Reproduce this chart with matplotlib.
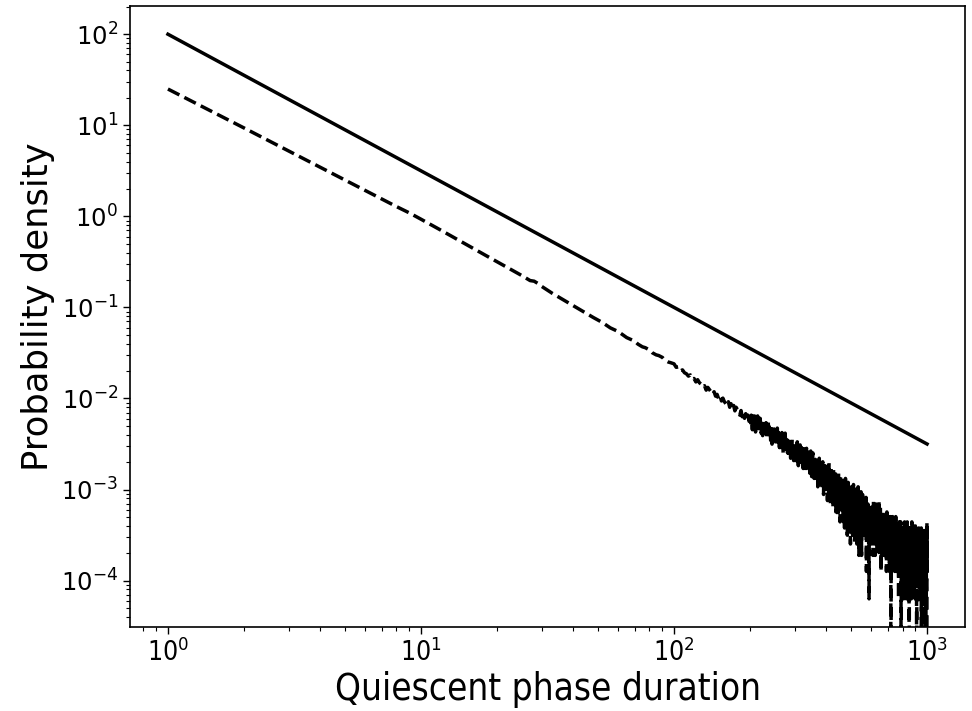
import matplotlib
matplotlib.use("Agg")
import matplotlib.pyplot as plt
import numpy as np
from matplotlib import font_manager

# ---------------- data ----------------
# reference power law (solid line)
ref_x = [1, 1000]
ref_y = [100.0, 3.16e-3]

# smooth (low-noise) part of the measured distribution, x < 100
head_x = [1, 2, 3, 4, 5, 6, 7, 8, 9, 10, 12, 14, 16, 18, 20, 22, 25, 27, 28, 29, 30,
          33, 36, 40, 44, 48, 52, 56, 60, 62, 65, 67, 70, 72, 75, 77, 80, 82, 85, 87,
          90, 92, 95, 97]
head_y = [25.0, 9.33, 5.22, 3.46, 2.51, 1.94, 1.55, 1.28, 1.09, 0.93, 0.703, 0.552, 0.449,
          0.373, 0.317, 0.273, 0.224, 0.197, 0.194, 0.183, 0.170,
          0.143, 0.124, 0.1045, 0.0893, 0.0774, 0.0685, 0.0596, 0.0545, 0.0512, 0.0466,
          0.0449, 0.0425, 0.0395, 0.0369, 0.0361, 0.0341, 0.0318, 0.0301, 0.0296,
          0.0282, 0.0263, 0.0251, 0.0247]

# noisy tail, expressed as event counts (one count = density_per_count)
density_per_count = 6.3e-5

tail_a_x = list(range(100, 200, 2))
tail_a_counts = [381, 349, 352, 318, 327, 304, 296, 279, 288, 259,
                 263, 241, 255, 236, 228, 211, 219, 196, 210, 199,
                 188, 176, 188, 168, 176, 158, 170, 149, 160, 147,
                 140, 133, 146, 127, 139, 121, 133, 116, 127, 120,
                 109, 104, 117, 100, 112, 96, 108, 92, 104, 89]

tail_b_x = list(range(200, 1001))
tail_b_counts = [
    95, 81, 104, 88, 72, 97, 85, 110, 79, 91, 68, 99, 84, 76, 102, 87, 74, 93, 81, 96,
    80, 66, 89, 71, 62, 84, 75, 93, 60, 78, 70, 86, 58, 74, 81, 65, 90, 69, 77, 63,
    68, 55, 74, 61, 50, 70, 58, 79, 64, 52, 66, 59, 72, 48, 63, 57, 75, 54, 61, 67,
    58, 46, 63, 51, 42, 60, 55, 67, 48, 53, 40, 57, 62, 45, 52, 66, 49, 44, 56, 50,
    51, 40, 55, 45, 37, 49, 58, 42, 47, 35, 52, 44, 39, 56, 46, 41, 50, 33, 48, 43,
    44, 36, 50, 39, 31, 45, 41, 53, 34, 40, 29, 47, 38, 43, 35, 49, 32, 42, 37, 46,
    39, 31, 44, 34, 27, 40, 36, 47, 29, 35, 42, 25, 37, 33, 45, 30, 38, 28, 41, 34,
    35, 27, 39, 30, 24, 36, 32, 42, 26, 31, 22, 37, 29, 34, 40, 25, 33, 28, 21, 32,
    30, 23, 34, 26, 19, 31, 27, 36, 22, 28, 17, 32, 25, 29, 21, 35, 24, 20, 30, 26,
    26, 19, 30, 22, 16, 27, 23, 32, 18, 24, 14, 28, 21, 25, 17, 29, 20, 15, 26, 22,
    24, 16, 27, 19, 12, 22, 17, 29, 14, 21, 31, 13, 20, 25, 15, 11, 23, 18, 28, 16,
    20, 13, 24, 16, 21, 10, 18, 27, 14, 17, 23, 11, 19, 15, 26, 18, 9, 16, 22, 14,
    17, 11, 21, 14, 8, 18, 15, 24, 12, 10, 19, 13, 16, 7, 15, 22, 11, 18, 12, 14,
    15, 9, 18, 12, 20, 10, 13, 7, 16, 19, 11, 14, 6, 17, 10, 13, 21, 9, 15, 11,
    13, 8, 16, 11, 5, 12, 15, 9, 19, 10, 6, 14, 12, 17, 8, 11, 15, 9, 4, 12,
    11, 15, 7, 12, 9, 17, 8, 11, 5, 14, 10, 12, 18, 8, 11, 6, 14, 10, 4, 12,
    10, 6, 13, 9, 16, 7, 11, 10, 4, 14, 8, 11, 5, 10, 17, 7, 9, 13, 3, 10,
    9, 12, 6, 10, 4, 13, 8, 9, 15, 6, 10, 3, 9, 12, 7, 6, 14, 9, 5, 10,
    8, 10, 6, 9, 12, 7, 8, 5, 11, 9, 7, 10, 6, 8, 13, 7, 2, 9, 8, 6,
    7, 9, 5, 8, 11, 6, 7, 10, 4, 8, 1, 7, 9, 6, 8, 5, 10, 7, 6, 8,
    7, 5, 11, 6, 8, 4, 7, 10, 6, 5, 9, 3, 7, 6, 12, 5, 7, 8, 4, 6,
    6, 8, 5, 7, 3, 9, 6, 5, 11, 7, 4, 6, 10, 5, 7, 6, 3, 8, 6, 5,
    7, 5, 6, 9, 4, 6, 12, 5, 3, 7, 6, 8, 5, 4, 10, 6, 5, 7, 2, 6,
    6, 4, 7, 5, 8, 6, 3, 5, 7, 6, 4, 9, 5, 6, 3, 7, 5, 6, 8, 4,
    5, 7, 4, 6, 3, 5, 8, 6, 4, 5, 7, 2, 6, 5, 9, 4, 5, 6, 3, 7,
    5, 4, 7, 3, 6, 5, 8, 4, 5, 6, 2, 5, 7, 4, 6, 3, 5, 8, 4, 6,
    0, 5, 6, 4, 7, 3, 5, 4, 6, 2, 5, 8, 4, 5, 3, 6, 4, 7, 5, 3,
    5, 3, 6, 4, 7, 2, 5, 4, 6, 3, 5, 4, 8, 3, 5, 6, 2, 4, 5, 6,
    4, 6, 3, 5, 2, 7, 4, 5, 3, 6, 4, 5, 1, 6, 4, 3, 7, 5, 4, 3,
    5, 3, 6, 4, 2, 5, 4, 7, 3, 4, 0, 5, 3, 6, 4, 2, 5, 4, 3, 6,
    4, 2, 5, 3, 6, 4, 3, 5, 1, 4, 6, 3, 4, 5, 2, 7, 4, 3, 5, 4,
    3, 5, 4, 2, 6, 4, 3, 5, 4, 1, 6, 3, 4, 5, 3, 7, 2, 4, 5, 3,
    4, 3, 5, 2, 4, 6, 3, 4, 1, 5, 0, 4, 3, 5, 2, 4, 6, 3, 4, 2,
    3, 5, 4, 2, 6, 3, 4, 1, 5, 3, 4, 7, 2, 4, 3, 5, 2, 4, 3, 6,
    4, 2, 3, 5, 3, 1, 4, 6, 3, 2, 5, 3, 4, 2, 7, 3, 4, 1, 3, 5,
    3, 4, 2, 5, 3, 1, 4, 3, 6, 2, 0, 4, 3, 5, 2, 3, 4, 1, 5, 3,
    4, 2, 3, 5, 1, 3, 4, 2, 6, 3, 4, 2, 3, 5, 1, 4, 3, 2, 4, 3,
    2, 4, 3, 1, 5, 3, 2, 4, 3, 6, 0, 3, 4, 2, 3, 5, 1, 3, 4, 2,
    3, 5, 2, 4, 1, 3, 2, 4, 3, 6, 2, 3, 1, 4, 0, 3, 5, 2, 3, 4,
    2, 4, 3, 1, 5, 2, 3, 0, 4, 3, 2, 5, 3, 1, 4, 2, 3, 6, 2, 7,
    0]

x_ticks = [1, 10, 100, 1000]
y_ticks = [1e-4, 1e-3, 1e-2, 1e-1, 1e0, 1e1, 1e2]

x_label = "Quiescent phase duration"
y_label = "Probability density"

# ---------------- build series ----------------
data_x = np.array(head_x + tail_a_x + tail_b_x, dtype=float)
data_y = np.concatenate([
    np.array(head_y, dtype=float),
    np.array(tail_a_counts + tail_b_counts, dtype=float) * density_per_count,
])

# ---------------- fonts ----------------
stretch = "normal"
try:
    fp = font_manager.FontProperties(family="DejaVu Sans", stretch="condensed")
    path = font_manager.findfont(fp, fallback_to_default=False)
    if "Condensed" in path:
        stretch = "condensed"
except Exception:
    pass
plt.rcParams["font.family"] = ["DejaVu Sans"]
plt.rcParams["mathtext.fontset"] = "dejavusans"

# ---------------- plot ----------------
fig = plt.figure(figsize=(9.72, 7.11), dpi=100)
ax = fig.add_axes([130 / 972, 1 - 627 / 711, (965 - 130) / 972, (627 - 6) / 711])

ax.plot(ref_x, ref_y, color="black", linestyle="-", linewidth=2.5)
ax.plot(data_x, data_y, color="black", linestyle="--", linewidth=2.5)

ax.set_xscale("log")
ax.set_yscale("log")
ax.set_xticks(x_ticks)
ax.set_yticks(y_ticks)
ax.set_xlim(10 ** -0.15, 10 ** 3.15)
ax.set_ylim(10 ** -4.51, 10 ** 2.31)

ax.set_xlabel(x_label, fontsize=26.5, labelpad=3, fontstretch=stretch)
ax.set_ylabel(y_label, fontsize=25.5, labelpad=4, fontstretch="normal", y=0.515)
ax.tick_params(axis="x", which="major", labelsize=19, length=5, width=1)
ax.tick_params(axis="y", which="major", labelsize=17.5, length=5, width=1)
ax.tick_params(axis="both", which="minor", length=3, width=0.8)
for s in ax.spines.values():
    s.set_linewidth(1.2)

fig.canvas.draw()
for lab in ax.get_xticklabels():
    lab.set_fontstretch(stretch)
for lab in ax.get_yticklabels():
    lab.set_fontstretch("normal")

fig.savefig("out.png", dpi=100)
